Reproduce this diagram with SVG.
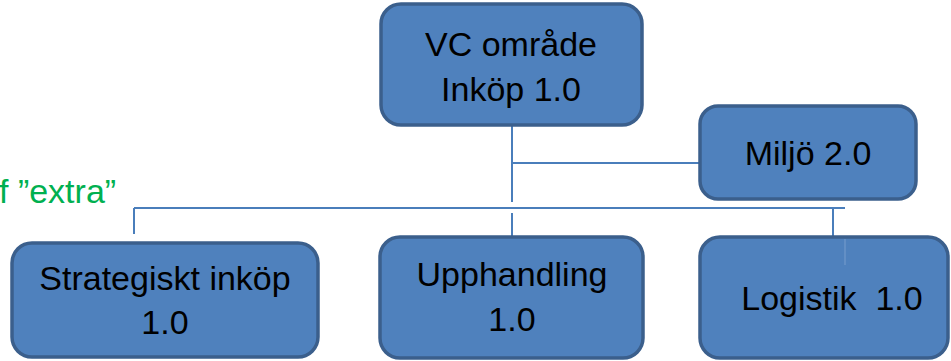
<svg xmlns="http://www.w3.org/2000/svg" width="951" height="361" viewBox="0 0 951 361">
<style>
.box{fill:#4f81bd;stroke:#3b5f8c;stroke-width:3.5}
.t{font-family:"Liberation Sans",Arial,sans-serif;font-size:34px;fill:#000;text-anchor:middle}
.c{fill:none;stroke:#4a7ebb;stroke-width:2}
.g{font-family:"Liberation Sans",Arial,sans-serif;font-size:34px;fill:#00b050}
</style>
<rect width="951" height="361" fill="#fff"/>
<text class="g" x="-1" y="203">f ”extra”</text>
<g id="connectors">
<path class="c" d="M512 125 V202 M512 163 H700 M134 208 H845 M134 208 V234 M512 213 V237 M833 208 V238 H845 V265"/>
</g>
<g id="vc">
<rect class="box" x="381" y="4" width="261" height="121" rx="20"/>
<text class="t" x="511" y="56">VC område</text>
<text class="t" x="511" y="101">Inköp 1.0</text>
</g>
<g id="miljo">
<rect class="box" x="700" y="106" width="216" height="93" rx="18"/>
<text class="t" x="808" y="165">Miljö 2.0</text>
</g>
<g id="strategiskt">
<rect class="box" x="12" y="243" width="306" height="114" rx="20"/>
<text class="t" x="165" y="290">Strategiskt inköp</text>
<text class="t" x="165" y="334">1.0</text>
</g>
<g id="upphandling">
<rect class="box" x="380" y="237" width="263" height="121" rx="20"/>
<text class="t" x="512" y="286">Upphandling</text>
<text class="t" x="512" y="331">1.0</text>
</g>
<g id="logistik">
<rect class="box" x="700" y="237" width="248" height="121" rx="20"/>
<path d="M845 239 V265" stroke="#6a94c8" stroke-width="1.5"/>
<text class="t" x="832" y="310" xml:space="preserve">Logistik  1.0</text>
</g>
</svg>
